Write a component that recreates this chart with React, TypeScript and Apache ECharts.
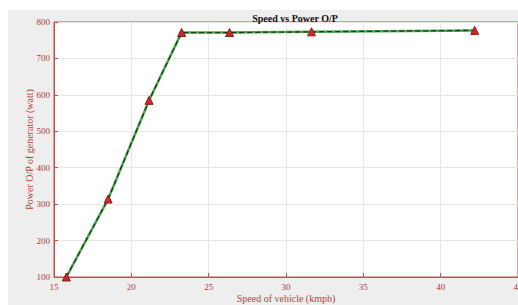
import React, { useEffect, useRef } from "react";
import * as echarts from "echarts";

const speed = [15.8, 18.5, 21.15, 23.25, 26.35, 31.65, 42.2];
const power = [100, 314, 585, 771, 771, 773, 777];
const titleText = "Speed vs Power O/P";
const xName = "Speed of vehicle (kmph)";
const yName = "Power O/P of generator (watt)";

export default function App() {
  const ref = useRef<HTMLDivElement>(null);
  useEffect(() => {
    const chart = echarts.init(ref.current!, null, { renderer: "svg" });
    const pts = speed.map((s, i) => [s, power[i]]);
    const font = "Liberation Serif";
    const tickColor = "#a83a3a";
    chart.setOption({
      animation: false,
      backgroundColor: "#ffffff",
      graphic: [
        {
          type: "rect",
          left: 8,
          top: 10,
          shape: { width: 520, height: 300 },
          style: { fill: "#eeeeee" },
          z: -10,
        },
      ],
      title: {
        text: titleText,
        left: 290,
        top: 8,
        textAlign: "center",
        textStyle: { fontFamily: font, fontSize: 10, fontWeight: "bold", color: "#111" },
      },
      grid: {
        left: 54,
        right: 0,
        top: 22,
        bottom: 28,
        outerBoundsMode: "none",
        containLabel: false,
        show: true,
        backgroundColor: "#ffffff",
        borderColor: "#c05050",
        borderWidth: 1,
      },
      xAxis: {
        type: "value",
        min: 15,
        max: 45,
        interval: 5,
        name: xName,
        nameLocation: "middle",
        nameGap: 16,
        nameMoveOverlap: false,
        nameTextStyle: { fontFamily: font, fontSize: 10, color: "#c03a3a" },
        axisLine: { show: true, lineStyle: { color: "#c05050" } },
        axisTick: { show: true, inside: true, length: 4, lineStyle: { color: "#c05050" } },
        axisLabel: { fontFamily: font, fontSize: 9, color: tickColor, margin: 5 },
        splitLine: { show: true, lineStyle: { color: "#ebe4e4" } },
      },
      yAxis: {
        type: "value",
        min: 100,
        max: 800,
        interval: 100,
        name: yName,
        nameLocation: "middle",
        nameGap: 20,
        nameMoveOverlap: false,
        nameTextStyle: { fontFamily: font, fontSize: 10, color: "#c03a3a" },
        axisLine: { show: true, lineStyle: { color: "#c05050" } },
        axisTick: { show: true, inside: true, length: 4, lineStyle: { color: "#c05050" } },
        axisLabel: { fontFamily: font, fontSize: 9, color: tickColor, margin: 4 },
        splitLine: { show: true, lineStyle: { color: "#ebe4e4" } },
      },
      series: [
        {
          type: "line",
          data: pts,
          symbol: "none",
          lineStyle: { color: "#4aaa4a", width: 2.5 },
          z: 2,
        },
        {
          type: "line",
          data: pts,
          symbol: "triangle",
          symbolSize: 8,
          itemStyle: { color: "#cc2a2a", borderColor: "#8a1a1a", borderWidth: 1 },
          lineStyle: { color: "#1f3a1f", width: 1.3, type: [5, 3] },
          z: 3,
        },
      ],
    });
    return () => chart.dispose();
  }, []);
  return (
    <div
      ref={ref}
      style={{ position: "fixed", left: 0, top: 0, width: 518, height: 305 }}
    />
  );
}
